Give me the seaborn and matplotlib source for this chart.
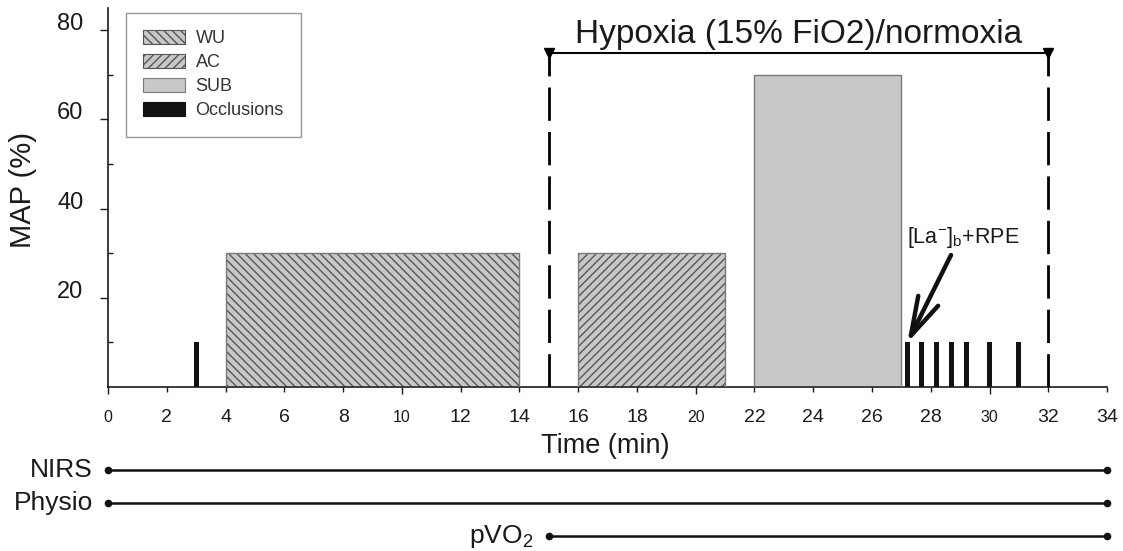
import matplotlib
matplotlib.use("Agg")
import matplotlib.pyplot as plt
import seaborn as sns
import pandas as pd
from matplotlib.patches import Patch
from matplotlib.ticker import FixedLocator, FixedFormatter

# ---------------- data ----------------
phase_names = ["WU", "AC", "SUB"]
phase_start = [4, 16, 22]
phase_end = [14, 21, 27]
phase_map = [30, 30, 70]
phase_hatch = ["\\\\\\\\", "////", ""]

occlusion_times = [3.0, 27.2, 27.7, 28.2, 28.7, 29.2, 30.0, 31.0]
occlusion_map = [10, 10, 10, 10, 10, 10, 10, 10]
occlusion_width = 0.17

hypoxia_start = 15
hypoxia_end = 32
hypoxia_level = 75
hypoxia_label = "Hypoxia (15% FiO2)/normoxia"

lactate_label = "[La$^{-}$]$_{b}$+RPE"
lactate_text_xy = (27.18, 32.3)
lactate_arrow_tail = (28.69, 29.6)
lactate_arrow_tip = (27.2, 9.9)

signals = ["NIRS", "Physio", "pVO$_2$"]
signal_start = [0, 0, 15]
signal_end = [34, 34, 34]

x_major = [0, 10, 20, 30]
x_minor = [2, 4, 6, 8, 12, 14, 16, 18, 22, 24, 26, 28, 32, 34]
y_major = [20, 40, 60, 80]
y_minor = [10, 30, 50, 70]

# ---------------- style ----------------
sns.set_theme(style="ticks")
plt.rcParams["font.family"] = ["Liberation Sans", "DejaVu Sans"]
plt.rcParams["mathtext.default"] = "regular"
plt.rcParams["hatch.linewidth"] = 1.0
plt.rcParams["text.color"] = "#1a1a1a"
plt.rcParams["axes.labelcolor"] = "#1a1a1a"
plt.rcParams["xtick.color"] = "#1a1a1a"
plt.rcParams["ytick.color"] = "#1a1a1a"

fill_grey = "#c8c8c8"
hatch_grey = "#555555"
edge_grey = "#7a7a7a"

fig = plt.figure(figsize=(11.23, 5.51), dpi=100)
ax = fig.add_axes([0.0962, 0.2976, 0.8896, 0.6879])

# phase blocks
for name, a, b, h, ht in zip(phase_names, phase_start, phase_end, phase_map, phase_hatch):
    if ht:
        ax.bar(a, h, width=b - a, align="edge", color=fill_grey, edgecolor=hatch_grey,
               hatch=ht, linewidth=0, zorder=2)
    else:
        ax.bar(a, h, width=b - a, align="edge", color=fill_grey, linewidth=0, zorder=2)
    ax.bar(a, h, width=b - a, align="edge", fill=False, edgecolor=edge_grey,
           linewidth=1.0, zorder=3)

# occlusions
ax.bar(occlusion_times, occlusion_map, width=occlusion_width, color="#111111",
       linewidth=0, zorder=3)

# hypoxia bracket
ax.vlines([hypoxia_start, hypoxia_end], 0, hypoxia_level, colors="black",
          linewidth=2, linestyles=[(0, (12, 4))], zorder=4)
ax.plot([hypoxia_start, hypoxia_end], [hypoxia_level, hypoxia_level], color="black",
        linewidth=1.5, marker="v", markersize=7, clip_on=False, zorder=5)
ax.text((hypoxia_start + hypoxia_end) / 2, hypoxia_level + 0.6, hypoxia_label,
        ha="center", va="bottom", fontsize=24)

# lactate annotation
ax.text(lactate_text_xy[0], lactate_text_xy[1], lactate_label, ha="left",
        va="baseline", fontsize=15.5)
ax.annotate("", xy=lactate_arrow_tip, xytext=lactate_arrow_tail,
            arrowprops=dict(arrowstyle="->,head_length=1.4,head_width=0.4",
                            lw=3.2, color="#111111", shrinkA=0, shrinkB=0,
                            mutation_scale=20))

# axes
ax.set_xlim(0, 34)
ax.set_ylim(0, 85)
sns.despine(ax=ax)
for s in ["left", "bottom"]:
    ax.spines[s].set_linewidth(1.2)
    ax.spines[s].set_color("#1a1a1a")

ax.xaxis.set_major_locator(FixedLocator(x_major))
ax.xaxis.set_major_formatter(FixedFormatter([str(v) for v in x_major]))
ax.xaxis.set_minor_locator(FixedLocator(x_minor))
ax.xaxis.set_minor_formatter(FixedFormatter([str(v) for v in x_minor]))
ax.tick_params(axis="x", which="major", direction="out", length=5, width=1,
               labelsize=11.5, pad=11.5)
ax.tick_params(axis="x", which="minor", direction="out", length=3.6, width=1,
               labelsize=14, pad=12.5)

ax.yaxis.set_major_locator(FixedLocator(y_major))
ax.yaxis.set_major_formatter(FixedFormatter([str(v) for v in y_major]))
ax.yaxis.set_minor_locator(FixedLocator(y_minor))
ax.tick_params(axis="y", which="major", direction="out", length=5.8, width=1,
               labelsize=17, pad=12)
ax.tick_params(axis="y", which="minor", direction="in", length=3.6, width=1)
for lab in ax.get_yticklabels():
    lab.set_va("baseline")

ax.set_xlabel("Time (min)", fontsize=19.5)
ax.xaxis.set_label_coords(0.4975, -0.12)
ax.set_ylabel("MAP (%)", fontsize=21)
ax.yaxis.set_label_coords(-0.071, 0.52)

handles = [
    Patch(facecolor=fill_grey, edgecolor=hatch_grey, hatch=phase_hatch[0], linewidth=0.8),
    Patch(facecolor=fill_grey, edgecolor=hatch_grey, hatch=phase_hatch[1], linewidth=0.8),
    Patch(facecolor=fill_grey, edgecolor=edge_grey, linewidth=0.8),
    Patch(facecolor="#111111", edgecolor="#111111", linewidth=0.8),
]
leg = ax.legend(handles, phase_names + ["Occlusions"], loc="upper left",
                bbox_to_anchor=(0.018, 0.987), borderaxespad=0, fontsize=13,
                frameon=True, fancybox=False, framealpha=1, edgecolor="#999999",
                borderpad=0.95, labelspacing=0.38, handlelength=2.3,
                handleheight=0.8, handletextpad=0.6)
leg.get_frame().set_linewidth(1.0)
for t in leg.get_texts():
    t.set_color("#333333")

# ---------------- measurement timelines ----------------
ax2 = fig.add_axes([0.0962, 0.0, 0.8896, 114 / 551])
ax2.patch.set_alpha(0)
tl = pd.DataFrame({
    "signal": [s for s in signals for _ in range(2)],
    "row": [i for i in range(len(signals)) for _ in range(2)],
    "time": [v for a, b in zip(signal_start, signal_end) for v in (a, b)],
})
sns.lineplot(data=tl, x="time", y="row", units="signal", estimator=None, sort=False,
             color="#111111", marker="o", markersize=5.5, markeredgewidth=0,
             linewidth=1.8, clip_on=False, legend=False, ax=ax2)
for i, (s, a) in enumerate(zip(signals, signal_start)):
    ax2.annotate(s, xy=(a, i), xytext=(-11, 0), textcoords="offset points",
                 ha="right", va="center", fontsize=19)
ax2.set_xlim(0, 34)
ax2.set_ylim(2.4545, -1)
ax2.axis("off")

fig.savefig("out.png", dpi=100)
